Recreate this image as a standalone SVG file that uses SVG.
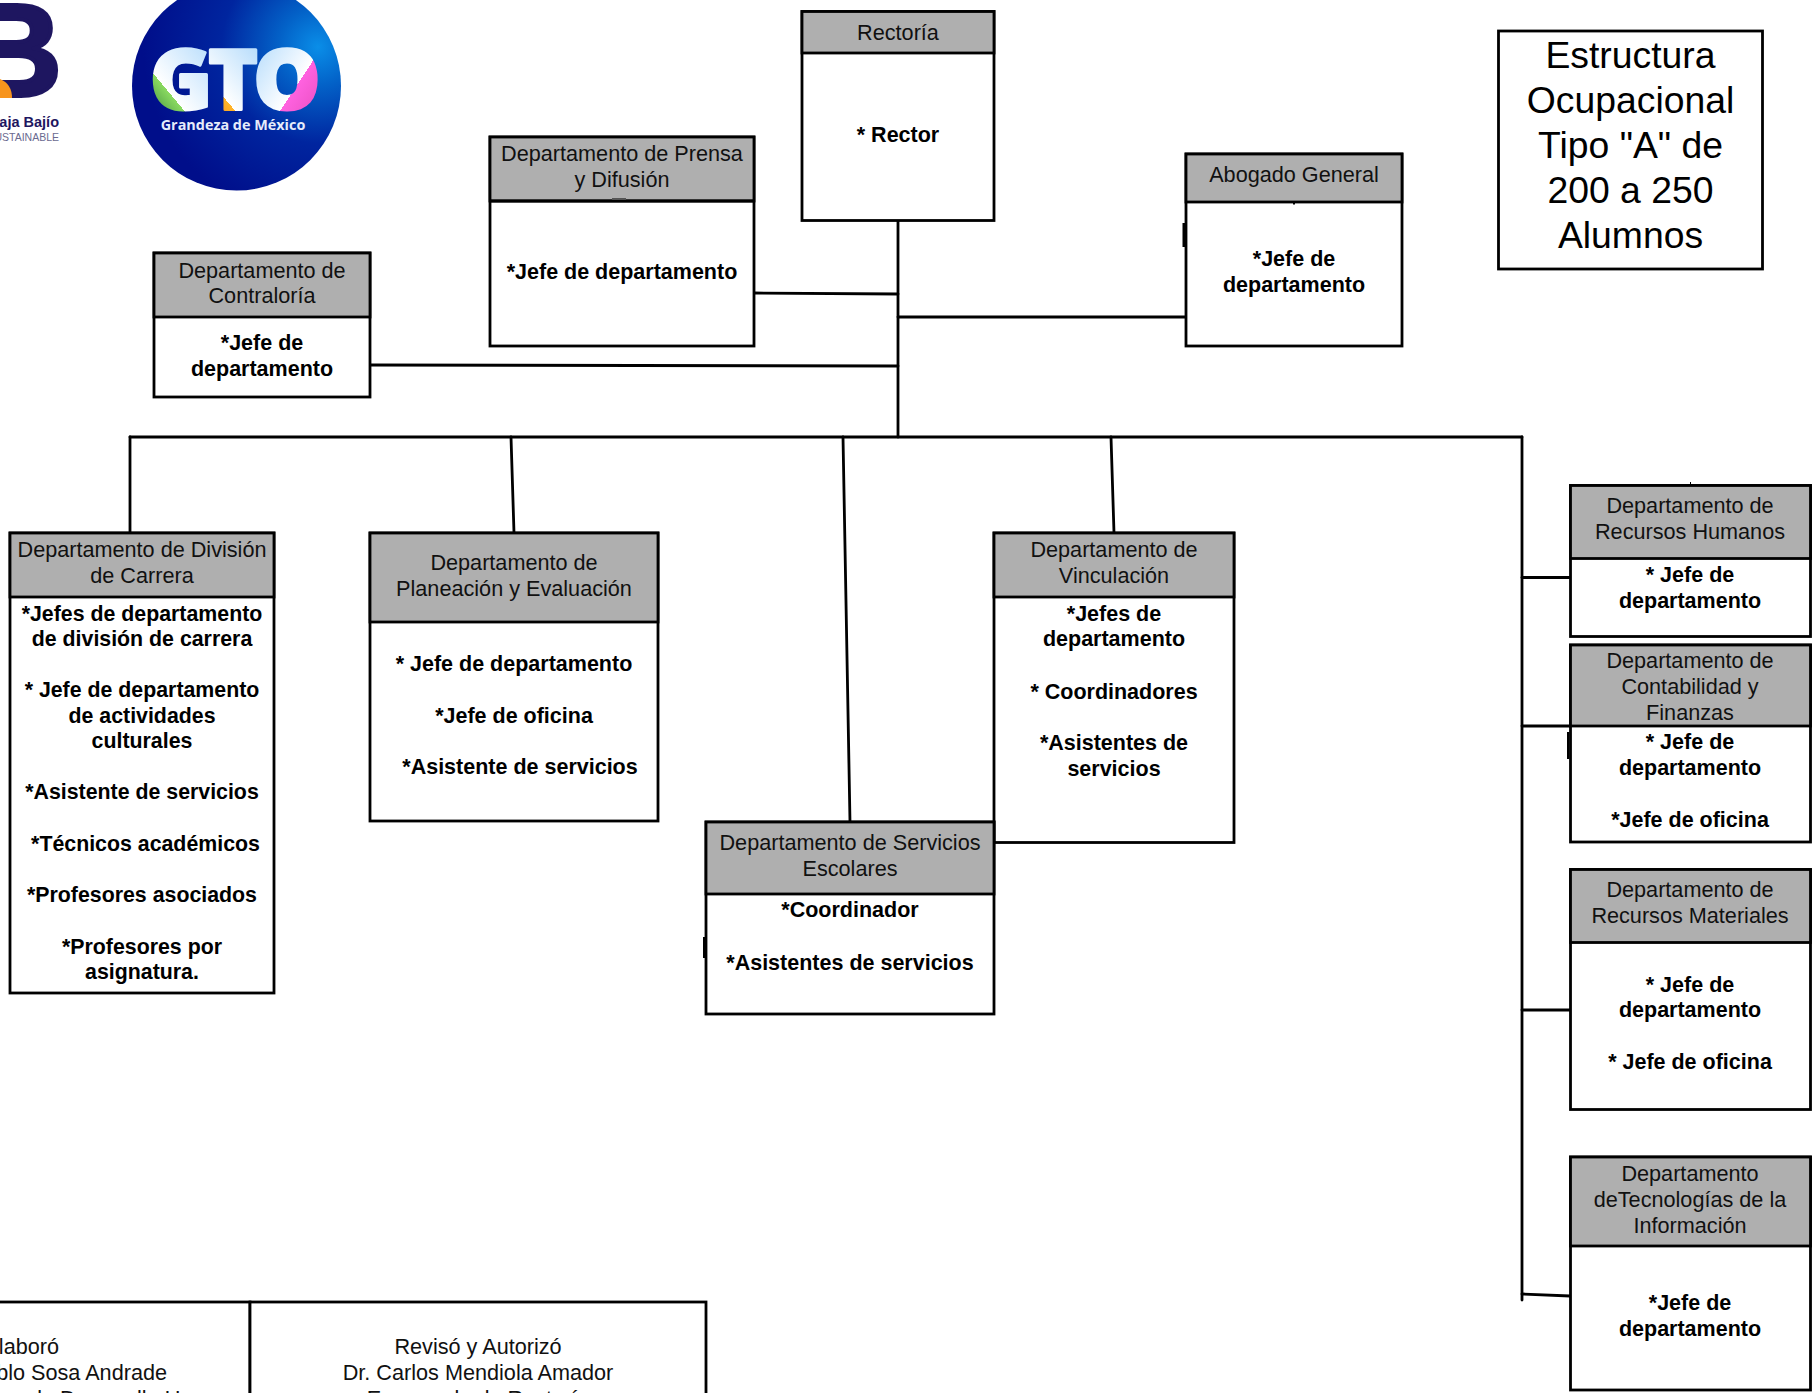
<svg xmlns="http://www.w3.org/2000/svg" width="1817" height="1393" viewBox="0 0 1817 1393">
<style>
text{font-family:"Liberation Sans",Arial,sans-serif;font-size:21.65px;fill:#111;text-anchor:middle}
text.b{font-weight:700;fill:#000;font-size:21.5px}
#division text.b{font-size:21.33px}
.box{fill:#fff;stroke:#000;stroke-width:2.8}
.hd{fill:#afafaf;stroke:#000;stroke-width:2.8}
.c line{stroke:#000;stroke-width:2.8;stroke-linecap:round}
text.t{font-size:37.33px;fill:#000}
text.gto{font-family:"Open Sans","Liberation Sans",sans-serif;font-weight:800;font-size:84px;stroke-width:3;stroke-linejoin:round}
</style>
<defs>
<radialGradient id="blue" gradientUnits="userSpaceOnUse" cx="318" cy="47" r="175">
<stop offset="0" stop-color="#0a8ee8"/><stop offset=".22" stop-color="#0362c8"/><stop offset=".55" stop-color="#00259f"/><stop offset="1" stop-color="#000e8a"/>
</radialGradient>
<linearGradient id="gG" x1=".9" y1="0" x2=".25" y2="1"><stop offset="0" stop-color="#a9d6fb"/><stop offset=".72" stop-color="#fff"/><stop offset=".72" stop-color="#8ada60"/><stop offset="1" stop-color="#3d8a3c"/></linearGradient>
<linearGradient id="gT" x1=".8" y1="0" x2=".3" y2="1"><stop offset="0" stop-color="#a9d6fb"/><stop offset=".74" stop-color="#fff"/><stop offset=".74" stop-color="#ffb52a"/><stop offset="1" stop-color="#f58a1f"/></linearGradient>
<linearGradient id="gO" x1=".1" y1="0" x2=".9" y2=".9"><stop offset="0" stop-color="#a9d6fb"/><stop offset=".66" stop-color="#fff"/><stop offset=".66" stop-color="#ff62e0"/><stop offset="1" stop-color="#e94fc0"/></linearGradient>
</defs>
<rect width="1817" height="1393" fill="#fff"/>

<g id="logo-laja-bajio">
<text x="62" y="96" class="b" style="font-size:132px;fill:#1e1660;text-anchor:end;stroke:#1e1660;stroke-width:4;stroke-linejoin:round">B</text>
<path d="M0 79 Q12 84 12 98 L0 98Z" fill="#f7941d"/>
<text x="59" y="127" class="b" style="font-size:14.5px;fill:#1e1660;text-anchor:end">Laja Bajío</text>
<text x="59" y="141" style="font-size:10.5px;fill:#6a6a90;text-anchor:end">SUSTAINABLE</text>
</g>
<g id="logo-gto">
<circle cx="236.5" cy="86" r="104.5" fill="url(#blue)"/>
<text x="181" y="109" class="gto" style="fill:url(#gG);stroke:url(#gG)">G</text>
<text x="233" y="109" class="gto" style="fill:url(#gT);stroke:url(#gT)">T</text>
<text x="287" y="109" class="gto" style="fill:url(#gO);stroke:url(#gO)">O</text>
<text x="233" y="130" class="b" style="font-size:14.4px;fill:#e6ecfb;font-family:'Open Sans','Liberation Sans',sans-serif">Grandeza de México</text>
</g>

<g id="connectors" class="c">
<line x1="898" y1="220" x2="898" y2="437"/>
<line x1="754" y1="293" x2="898" y2="294"/>
<line x1="898" y1="317" x2="1186" y2="317"/>
<line x1="370" y1="365" x2="898" y2="366"/>
<line x1="130" y1="437" x2="1522" y2="437"/>
<line x1="130" y1="437" x2="130" y2="532"/>
<line x1="511" y1="437" x2="514" y2="533"/>
<line x1="843" y1="437" x2="850" y2="822"/>
<line x1="1111" y1="437" x2="1114" y2="533"/>
<line x1="1522" y1="437" x2="1522" y2="1300"/>
<line x1="1522" y1="577.5" x2="1570" y2="577.5"/>
<line x1="1522" y1="726" x2="1570" y2="726"/>
<line x1="1522" y1="1010" x2="1570" y2="1010"/>
<line x1="1522" y1="1294" x2="1570" y2="1296"/>
</g>

<g id="rectoria"><rect class="box" x="802" y="11.5" width="192" height="209"/><rect class="hd" x="802" y="11.5" width="192" height="41.5"/>
<text x="898" y="40">Rectoría</text><text class="b" x="898" y="141.5">* Rector</text></g>

<g id="prensa"><rect class="box" x="490" y="137" width="264" height="209"/><rect class="hd" x="490" y="137" width="264" height="64"/><rect x="490" y="199.5" width="264" height="3"/><rect x="612" y="198" width="14" height="2" fill="#555"/>
<text x="622" y="160.5">Departamento de Prensa</text><text x="622" y="186.5">y Difusión</text>
<text class="b" x="622" y="279">*Jefe de departamento</text></g>

<g id="abogado"><rect class="box" x="1186" y="154" width="216" height="192"/><rect class="hd" x="1186" y="154" width="216" height="48"/><rect x="1293" y="202" width="2" height="2.5"/><rect x="1182.5" y="223" width="3" height="24"/>
<text x="1294" y="182">Abogado General</text>
<text class="b" x="1294" y="266">*Jefe de</text><text class="b" x="1294" y="292">departamento</text></g>

<g id="contraloria"><rect class="box" x="154" y="253" width="216" height="144"/><rect class="hd" x="154" y="253" width="216" height="64"/>
<text x="262" y="277.5">Departamento de</text><text x="262" y="303">Contraloría</text>
<text class="b" x="262" y="349.5">*Jefe de</text><text class="b" x="262" y="375.5">departamento</text></g>

<g id="titulo"><rect class="box" x="1498.5" y="31" width="264" height="238"/>
<text class="t" x="1630.5" y="68">Estructura</text><text class="t" x="1630.5" y="113">Ocupacional</text><text class="t" x="1630.5" y="157.5">Tipo "A" de</text><text class="t" x="1630.5" y="203">200 a 250</text><text class="t" x="1630.5" y="247.5">Alumnos</text></g>

<g id="division"><rect class="box" x="10" y="533" width="264" height="460"/><rect class="hd" x="10" y="533" width="264" height="64"/>
<text x="142" y="557">Departamento de División</text><text x="142" y="583">de Carrera</text>
<text class="b" x="142" y="620.5">*Jefes de departamento</text><text class="b" x="142" y="646">de división de carrera</text>
<text class="b" x="142" y="697">* Jefe de departamento</text><text class="b" x="142" y="723">de actividades</text><text class="b" x="142" y="748">culturales</text>
<text class="b" x="142" y="799">*Asistente de servicios</text>
<text class="b" x="145.5" y="851">*Técnicos académicos</text>
<text class="b" x="142" y="902">*Profesores asociados</text>
<text class="b" x="142" y="953.5">*Profesores por</text><text class="b" x="142" y="979">asignatura.</text></g>

<g id="planeacion"><rect class="box" x="370" y="533" width="288" height="288"/><rect class="hd" x="370" y="533" width="288" height="89"/>
<text x="514" y="569.5">Departamento de</text><text x="514" y="595.5">Planeación y Evaluación</text>
<text class="b" x="514" y="671">* Jefe de departamento</text>
<text class="b" x="514" y="723">*Jefe de oficina</text>
<text class="b" x="520" y="774">*Asistente de servicios</text></g>

<g id="vinculacion"><rect class="box" x="994" y="533" width="240" height="309.5"/><rect class="hd" x="994" y="533" width="240" height="64"/>
<text x="1114" y="557">Departamento de</text><text x="1114" y="583">Vinculación</text>
<text class="b" x="1114" y="620.5">*Jefes de</text><text class="b" x="1114" y="646">departamento</text>
<text class="b" x="1114" y="698.5">* Coordinadores</text>
<text class="b" x="1114" y="750">*Asistentes de</text><text class="b" x="1114" y="776">servicios</text></g>

<g id="servicios"><rect class="box" x="706" y="822" width="288" height="192"/><rect class="hd" x="706" y="822" width="288" height="72"/><rect x="703" y="937" width="3" height="21"/>
<text x="850" y="849.5">Departamento de Servicios</text><text x="850" y="876">Escolares</text>
<text class="b" x="850" y="917">*Coordinador</text>
<text class="b" x="850" y="969.5">*Asistentes de servicios</text></g>

<g id="rrhh"><rect class="box" x="1570.5" y="485.5" width="240" height="151"/><rect class="hd" x="1570.5" y="485.5" width="240" height="73"/><rect x="1690" y="482" width="1" height="3"/>
<text x="1690" y="513">Departamento de</text><text x="1690" y="538.5">Recursos Humanos</text>
<text class="b" x="1690" y="582">* Jefe de</text><text class="b" x="1690" y="607.5">departamento</text></g>

<g id="contabilidad"><rect class="box" x="1570.5" y="645" width="240" height="197"/><rect class="hd" x="1570.5" y="645" width="240" height="81"/><rect x="1567" y="732" width="2.5" height="27"/>
<text x="1690" y="668">Departamento de</text><text x="1690" y="694">Contabilidad y</text><text x="1690" y="720">Finanzas</text>
<text class="b" x="1690" y="749">* Jefe de</text><text class="b" x="1690" y="774.5">departamento</text>
<text class="b" x="1690" y="827">*Jefe de oficina</text></g>

<g id="materiales"><rect class="box" x="1570.5" y="869.5" width="240" height="240"/><rect class="hd" x="1570.5" y="869.5" width="240" height="73"/>
<text x="1690" y="897">Departamento de</text><text x="1690" y="923">Recursos Materiales</text>
<text class="b" x="1690" y="991.5">* Jefe de</text><text class="b" x="1690" y="1017">departamento</text>
<text class="b" x="1690" y="1069">* Jefe de oficina</text></g>

<g id="tecnologias"><rect class="box" x="1570.5" y="1157" width="240" height="233"/><rect class="hd" x="1570.5" y="1157" width="240" height="89"/>
<text x="1690" y="1180.5">Departamento</text><text x="1690" y="1206.5">deTecnologías de la</text><text x="1690" y="1232.5">Información</text>
<text class="b" x="1690" y="1310">*Jefe de</text><text class="b" x="1690" y="1336">departamento</text></g>

<g id="firma-elaboro"><rect class="box" x="-20" y="1302" width="270" height="120"/>
<text x="59" y="1354" style="text-anchor:end">Elaboró</text>
<text x="167" y="1380" style="text-anchor:end">Pablo Sosa Andrade</text>
<text x="30" y="1406" style="text-anchor:start">de Desarrollo U</text></g>
<g id="firma-reviso"><rect class="box" x="250" y="1302" width="456" height="120"/>
<text x="478" y="1354">Revisó y Autorizó</text>
<text x="478" y="1380">Dr. Carlos Mendiola Amador</text>
<text x="478" y="1406">Encargado de Rectoría</text></g>
</svg>
